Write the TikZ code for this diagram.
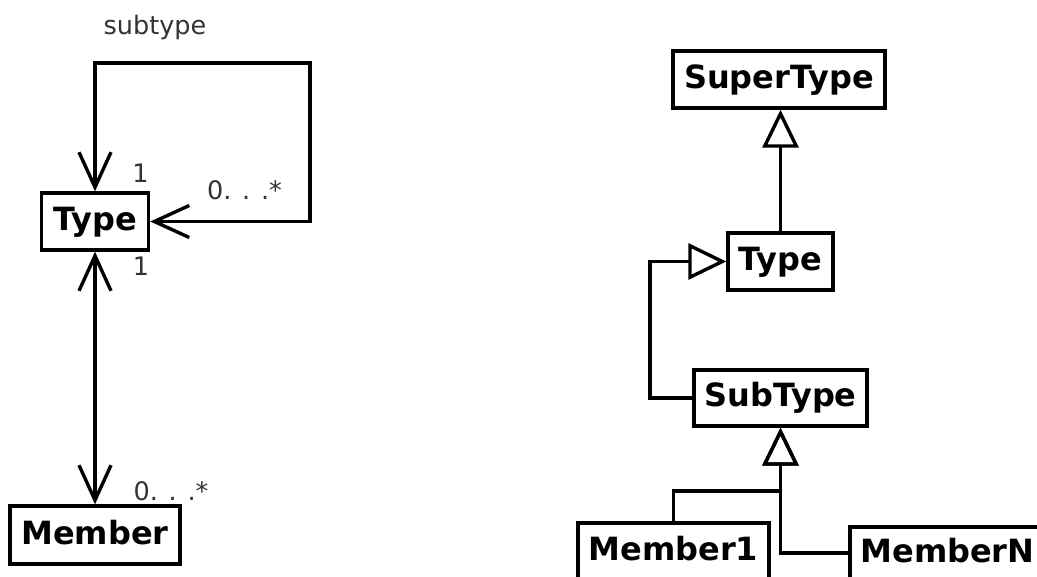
\documentclass[tikz,border=0pt]{standalone}
\usepackage{fontspec}
\setmainfont{DejaVu Sans}
\usetikzlibrary{arrows.meta}

\begin{document}
\begin{tikzpicture}[x=1pt,y=-1pt,
  cls/.style={draw, line width=3.4pt, inner sep=0pt, minimum height=57pt,
    text height=23pt, text depth=5pt,
    font=\bfseries\fontsize{32}{38}\selectfont},
  lbl/.style={inner sep=0pt, text=black!80, font=\fontsize{25.5}{30}\selectfont},
  assoc/.style={line width=3.4pt,
    {Straight Barb[length=35pt,width=32pt]}-{Straight Barb[length=35pt,width=32pt]}},
  gen/.style={line width=3.4pt, -{Triangle[open,length=38pt,width=36pt]}}
]
\fill[white] (0,0) rectangle (1037,577);
\useasboundingbox (0,0) rectangle (1037,577);
\clip (0,0) rectangle (1037,577);

% ---- association view ----
\node[cls, minimum width=107pt] (typeL) at (95,221.5) {Type};
\node[cls, minimum width=170pt, minimum height=58pt] (memberL) at (95,535) {Member};

\coordinate (loopR) at (310,63);
\draw[assoc] (typeL.east) -| (loopR) -| (typeL.north);
\draw[assoc] (typeL.south) -- (memberL.north);

\node[lbl] (subtypeLbl) at (155,27.5) {subtype};
\node[lbl] (oneTop) at (140.5,173.5) {1};
\node[lbl] (manyLoop) at (244.5,190) {0. . .*};
\node[lbl] (oneBottom) at (141,266) {1};
\node[lbl] (manyMember) at (171,491) {0. . .*};

% ---- inheritance view ----
\node[cls, minimum width=212pt] (super) at (779,79.5) {SuperType};
\node[cls, minimum width=105pt] (typeR) at (780.5,261.5) {Type};
\node[cls, minimum width=173pt, minimum height=56pt] (sub) at (780.5,398) {SubType};
\node[cls, minimum width=191pt] (m1) at (673.5,551.5) {Member1};
\node[cls, minimum width=195pt, minimum height=52pt] (mN) at (947.5,553) {MemberN};

\draw[gen] (typeR.north) -- (typeR.north |- super.south);

\coordinate (subBend) at (650,398);
\draw[gen] (sub.west) -- (subBend) |- (typeR.west);

\coordinate (memberJoin) at (780.5,491);
\draw[gen] (m1.north) |- (memberJoin) -- (sub.south);
\draw[gen] (mN.west) -| (sub.south);
\end{tikzpicture}
\end{document}
